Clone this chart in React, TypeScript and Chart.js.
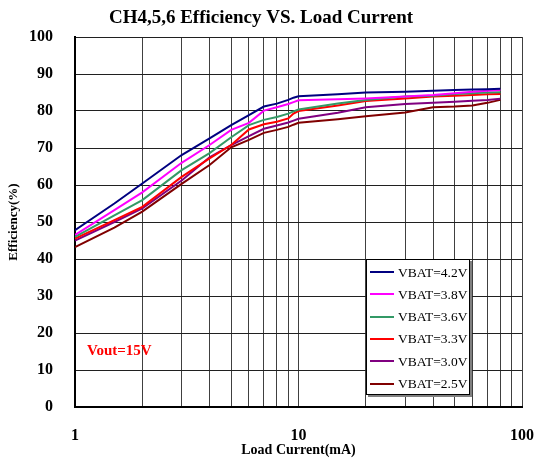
import React, { useEffect, useRef } from "react";
import { Chart, registerables } from "chart.js";

Chart.register(...registerables);

const TITLE = "CH4,5,6 Efficiency VS. Load Current";
const X_TITLE = "Load Current(mA)";
const Y_TITLE = "Efficiency(%)";
const NOTE = "Vout=15V";

const LOAD_CURRENT = [1, 1.5, 2, 3, 4, 5, 6, 7, 8, 9, 9.5, 10, 15, 20, 30, 40, 50, 60, 70, 80];
const VBAT_42 = [47.8, 55.0, 60.4, 68.1, 72.6, 76.2, 78.9, 81.2, 82.0, 83.0, 83.6, 84.0, 84.5, 85.0, 85.2, 85.5, 85.7, 85.8, 85.9, 86.0];
const VBAT_38 = [46.5, 53.2, 58.0, 66.0, 70.8, 74.9, 76.8, 80.1, 81.0, 81.9, 82.4, 82.9, 83.2, 83.4, 83.9, 84.3, 84.8, 85.2, 85.5, 85.7];
const VBAT_36 = [46.0, 51.8, 55.9, 64.0, 68.6, 72.9, 76.2, 77.6, 78.4, 79.3, 79.9, 80.4, 82.0, 83.0, 83.9, 84.1, 84.6, 84.8, 85.0, 85.1];
const VBAT_33 = [45.5, 50.5, 54.1, 62.2, 67.2, 70.8, 75.0, 76.4, 77.1, 78.0, 79.3, 80.0, 81.5, 82.7, 83.4, 83.9, 84.1, 84.3, 84.5, 84.6];
const VBAT_30 = [45.0, 50.0, 53.7, 61.2, 67.5, 70.8, 73.2, 75.2, 76.1, 76.9, 77.4, 77.9, 79.5, 81.0, 81.9, 82.2, 82.5, 82.8, 83.0, 83.3];
const VBAT_25 = [43.2, 48.5, 52.8, 60.3, 65.4, 70.2, 72.2, 74.1, 74.9, 75.7, 76.3, 76.8, 77.8, 78.6, 79.6, 81.0, 81.2, 81.5, 82.2, 83.0];

const SERIES = [VBAT_42, VBAT_38, VBAT_36, VBAT_33, VBAT_30, VBAT_25];
const SERIES_LABELS = ["VBAT=4.2V", "VBAT=3.8V", "VBAT=3.6V", "VBAT=3.3V", "VBAT=3.0V", "VBAT=2.5V"];
const SERIES_COLORS = ["#000080", "#FF00FF", "#339966", "#FF0000", "#800080", "#800000"];

const X_TICKS = [1, 2, 3, 4, 5, 6, 7, 8, 9, 10, 20, 30, 40, 50, 60, 70, 80, 90, 100];
const X_TICK_LABELS = [1, 10, 100];

const FONT = "'Liberation Serif', 'Times New Roman', serif";

const overlayPlugin = {
  id: "overlay",
  afterDraw(chart: any) {
    const ctx = chart.ctx as CanvasRenderingContext2D;
    ctx.save();
    // note text
    ctx.fillStyle = "#FF0000";
    ctx.font = `bold 15px ${FONT}`;
    ctx.textAlign = "left";
    ctx.textBaseline = "middle";
    ctx.fillText(NOTE, 87, 351);

    // legend box
    const bx = 366, by = 259, bw = 104, bh = 136;
    ctx.fillStyle = "#808080";
    ctx.fillRect(bx + 2, by + 2, bw, bh);
    ctx.fillStyle = "#FFFFFF";
    ctx.fillRect(bx, by, bw, bh);
    ctx.strokeStyle = "#000000";
    ctx.lineWidth = 1;
    ctx.strokeRect(bx + 0.5, by + 0.5, bw - 1, bh - 1);
    ctx.font = `13.5px ${FONT}`;
    ctx.textBaseline = "middle";
    chart.data.datasets.forEach((ds: any, i: number) => {
      const cy = 272 + i * 22.3;
      ctx.strokeStyle = ds.borderColor;
      ctx.lineWidth = 2;
      ctx.beginPath();
      ctx.moveTo(370, Math.round(cy));
      ctx.lineTo(394, Math.round(cy));
      ctx.stroke();
      ctx.fillStyle = "#000000";
      ctx.fillText(ds.label, 398, cy + 1);
    });
    ctx.restore();
  },
};

export default function App() {
  const ref = useRef<HTMLCanvasElement>(null);
  useEffect(() => {
    const chart = new Chart(ref.current!, {
      type: "line",
      data: {
        datasets: SERIES.map((s, i) => ({
          label: SERIES_LABELS[i],
          data: LOAD_CURRENT.map((x, j) => ({ x, y: s[j] })),
          borderColor: SERIES_COLORS[i],
          backgroundColor: SERIES_COLORS[i],
          borderWidth: 2,
          pointRadius: 0,
          tension: 0,
          fill: false,
        })),
      },
      options: {
        responsive: false,
        animation: false,
        layout: { padding: { left: 0, right: 14, top: 0, bottom: 0 }, autoPadding: false },
        plugins: {
          legend: { display: false },
          tooltip: { enabled: false },
          title: {
            display: true,
            text: TITLE,
            color: "#000",
            font: { family: FONT, size: 19, weight: "bold", lineHeight: 1.2 },
            padding: { top: 7, bottom: 7.2 },
          },
        },
        scales: {
          x: {
            type: "logarithmic",
            min: 1,
            max: 100,
            afterBuildTicks: (scale: any) => {
              scale.ticks = X_TICKS.map((v) => ({ value: v }));
            },
            afterFit: (scale: any) => {
              scale.height = 60;
              scale.paddingLeft = 0;
              scale.paddingRight = 0;
            },
            grid: { color: "#404040", lineWidth: 1, drawTicks: false },
            border: { color: "#000", width: 2 },
            ticks: {
              autoSkip: false,
              maxRotation: 0,
              padding: 19,
              color: "#000",
              font: { family: FONT, size: 16, weight: "bold" },
              callback: (v: any) => (X_TICK_LABELS.includes(Number(v)) ? String(v) : ""),
            },
            title: {
              display: true,
              text: X_TITLE,
              color: "#000",
              font: { family: FONT, size: 14, weight: "bold" },
              padding: { top: 0, bottom: 8.6 },
            },
          },
          y: {
            min: 0,
            max: 100,
            afterFit: (scale: any) => {
              scale.width = 75;
              scale.paddingTop = 0;
              scale.paddingBottom = 0;
            },
            grid: { color: "#202020", lineWidth: 1, drawTicks: false },
            border: { color: "#000", width: 2 },
            ticks: {
              stepSize: 10,
              padding: 22,
              color: "#000",
              font: { family: FONT, size: 16, weight: "bold" },
            },
            title: {
              display: true,
              text: Y_TITLE,
              color: "#000",
              font: { family: FONT, size: 13, weight: "bold" },
              padding: { top: 6, bottom: 0 },
            },
          },
        },
      },
      plugins: [overlayPlugin],
    } as any);
    return () => chart.destroy();
  }, []);
  return (
    <div style={{ position: "absolute", left: 0, top: 0, width: 536, height: 467, background: "#fff" }}>
      <canvas ref={ref} width={536} height={467} style={{ display: "block" }} />
    </div>
  );
}
